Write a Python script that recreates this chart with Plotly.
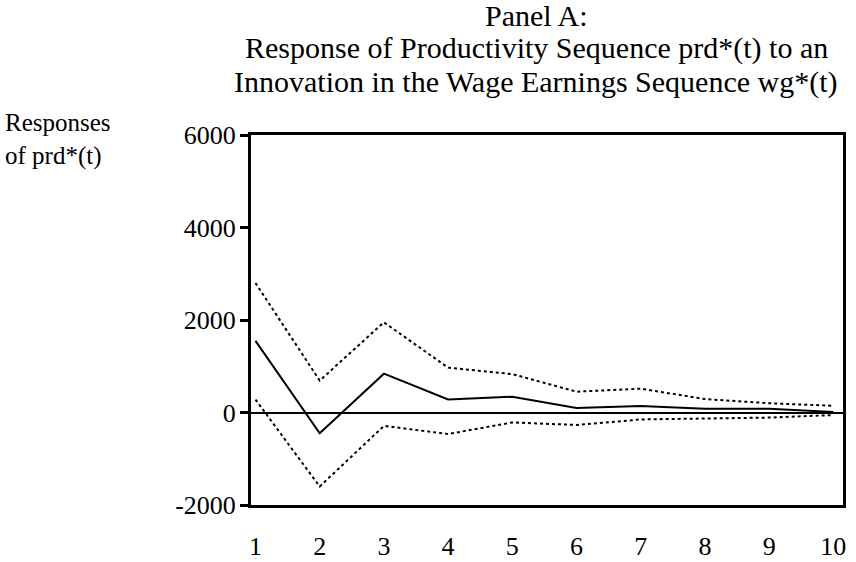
import plotly.graph_objects as go

periods = [1, 2, 3, 4, 5, 6, 7, 8, 9, 10]
response = [1550, -450, 840, 280, 340, 100, 140, 80, 80, 10]
upper_band = [2800, 690, 1950, 970, 830, 450, 515, 290, 200, 145]
lower_band = [280, -1600, -290, -465, -215, -270, -150, -130, -110, -55]
y_ticks = [-2000, 0, 2000, 4000, 6000]
x_ticks = periods
title_lines = ["Panel A:",
               "Response of Productivity Sequence prd*(t) to an",
               "Innovation in the Wage Earnings Sequence wg*(t)"]
y_label = "Responses<br>of prd*(t)"

FONT = "Liberation Serif, Times New Roman, serif"

fig = go.Figure()
fig.add_trace(go.Scatter(x=periods, y=upper_band, mode="lines",
                         line=dict(color="black", width=2, dash="3px,3px"),
                         showlegend=False))
fig.add_trace(go.Scatter(x=periods, y=lower_band, mode="lines",
                         line=dict(color="black", width=2, dash="3px,3px"),
                         showlegend=False))
fig.add_trace(go.Scatter(x=periods, y=response, mode="lines",
                         line=dict(color="black", width=2),
                         showlegend=False))

L, R, T, B = 251, 13, 135, 57
W, H = 856, 562
pw, ph = W - L - R, H - T - B


def px_to_paper_x(px):
    return (px - L) / pw


def px_to_paper_y(py):
    return (H - B - py) / ph


title_centers_y = [15, 48, 82]
annotations = []
for txt, cy in zip(title_lines, title_centers_y):
    annotations.append(dict(text=txt, xref="paper", yref="paper",
                            x=px_to_paper_x(536), y=px_to_paper_y(cy),
                            xanchor="center", yanchor="middle", showarrow=False,
                            font=dict(family=FONT, size=30)))
annotations.append(dict(text=y_label, xref="paper", yref="paper",
                        x=px_to_paper_x(3), y=px_to_paper_y(139),
                        xanchor="left", yanchor="middle", showarrow=False, align="left",
                        font=dict(family=FONT, size=25)))

fig.update_layout(
    width=W, height=H,
    margin=dict(l=L, r=R, t=T, b=B, autoexpand=False),
    paper_bgcolor="white", plot_bgcolor="white",
    font=dict(family=FONT, size=26, color="black"),
    xaxis=dict(range=[0.93, 10.15], tickvals=x_ticks, ticktext=[str(v) for v in x_ticks],
               showgrid=False, zeroline=False, showline=True, mirror=True,
               linecolor="black", linewidth=3, automargin=False,
               ticks="", ticklabelstandoff=16,
               tickfont=dict(family=FONT, size=26)),
    yaxis=dict(range=[-2000, 6000], tickvals=y_ticks, ticktext=[str(v) for v in y_ticks],
               showgrid=False, zeroline=True, zerolinecolor="black", zerolinewidth=2,
               showline=True, mirror=True, linecolor="black", linewidth=3, automargin=False,
               ticks="outside", ticklen=8, tickwidth=3, tickcolor="black",
               ticklabelstandoff=-1,
               tickfont=dict(family=FONT, size=26)),
    annotations=annotations,
)

fig.write_html("out.html", config={"displayModeBar": False},
               post_script="document.body.style.margin='0';document.body.style.overflow='hidden';")
